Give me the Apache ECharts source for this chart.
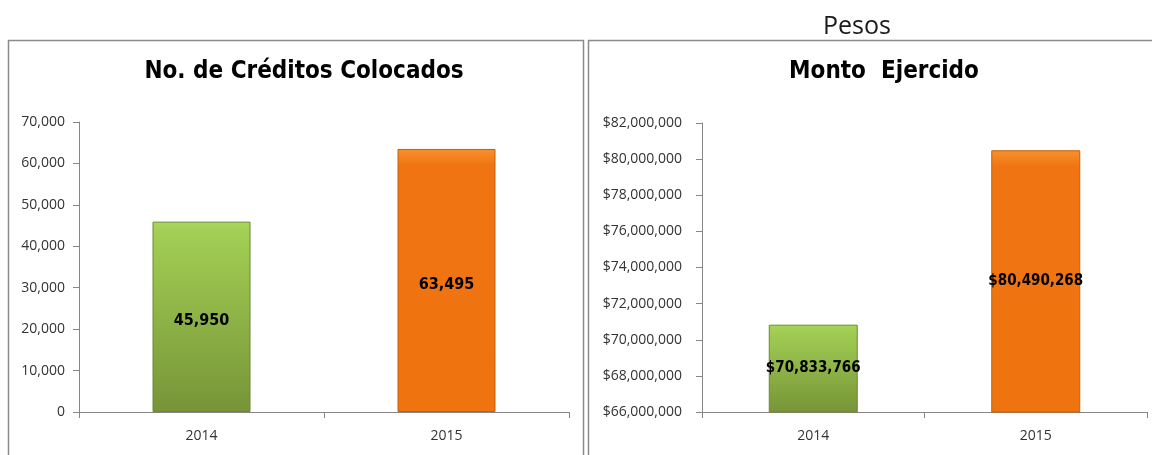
<!DOCTYPE html>
<html>
<head>
<meta charset="utf-8">
<script src="https://cdn.jsdelivr.net/npm/echarts@6/dist/echarts.min.js"></script>
<style>
  html, body { margin: 0; padding: 0; background: #fff; }
  #chart { width: 1152px; height: 455px; }
</style>
</head>
<body>
<div id="chart"></div>
<script>
  // datos de las dos gráficas
  const years = ['2014', '2015'];
  const creditos = [45950, 63495];
  const montos = [70833766, 80490268];
  const creditosTicks = { min: 0, max: 70000, step: 10000 };
  const montosTicks = { min: 66000000, max: 82000000, step: 2000000 };

  const narrow = "'DejaVu Sans Condensed', 'Liberation Sans Narrow', sans-serif";
  const regular = "'Open Sans', 'Noto Sans', sans-serif";

  const fmt = v => Number(v).toLocaleString('en-US');
  const fmtPeso = v => '$' + Number(v).toLocaleString('en-US');

  const green = new echarts.graphic.LinearGradient(0, 0, 0, 1, [
    { offset: 0, color: '#aad65c' },
    { offset: 0.05, color: '#a2cf54' },
    { offset: 1, color: '#779438' }
  ]);
  const orange = new echarts.graphic.LinearGradient(0, 0, 0, 1, [
    { offset: 0, color: '#f8912e' },
    { offset: 0.06, color: '#f07512' },
    { offset: 1, color: '#ef7410' }
  ]);

  function barData(values) {
    return values.map((v, i) => ({
      value: v,
      itemStyle: i === 0
        ? { color: green, borderColor: '#6a8a2e', borderWidth: 1 }
        : { color: orange, borderColor: '#c0600c', borderWidth: 1 }
    }));
  }

  const axisLine = { lineStyle: { color: '#868686', width: 1 } };

  const chart = echarts.init(document.getElementById('chart'));
  chart.setOption({
    animation: false,
    title: [
      {
        text: 'No. de Créditos Colocados',
        left: 299, top: 55, textAlign: 'center',
        textStyle: { fontFamily: narrow, fontWeight: 'bold', fontSize: 24, color: '#000' }
      },
      {
        text: 'Monto  Ejercido',
        left: 879, top: 55, textAlign: 'center',
        textStyle: { fontFamily: narrow, fontWeight: 'bold', fontSize: 24, color: '#000' }
      },
      {
        text: 'Pesos',
        left: 852, top: 9, textAlign: 'center',
        textStyle: { fontFamily: regular, fontWeight: 'normal', fontSize: 25, color: '#1a1a1a' }
      }
    ],
    graphic: [
      { type: 'rect', shape: { x: 8.5, y: 40.5, width: 575, height: 430 },
        style: { fill: 'none', stroke: '#8a8a8a', lineWidth: 1.5 } },
      { type: 'rect', shape: { x: 588.5, y: 40.5, width: 580, height: 430 },
        style: { fill: 'none', stroke: '#8a8a8a', lineWidth: 1.5 } }
    ],
    grid: [
      { left: 79, top: 122, width: 490, height: 290 },
      { left: 702, top: 123, width: 445, height: 289 }
    ],
    xAxis: [0, 1].map(i => ({
      type: 'category',
      gridIndex: i,
      data: years,
      axisLine: axisLine,
      axisTick: { show: true, length: 6, lineStyle: { color: '#868686' } },
      axisLabel: { fontFamily: regular, fontSize: 14, color: '#333', margin: 17 }
    })),
    yAxis: [
      {
        type: 'value', gridIndex: 0,
        min: creditosTicks.min, max: creditosTicks.max, interval: creditosTicks.step,
        axisLine: { show: true, lineStyle: axisLine.lineStyle },
        axisTick: { show: true, length: 6, lineStyle: { color: '#868686' } },
        splitLine: { show: false },
        axisLabel: { fontFamily: regular, fontSize: 14, color: '#333', margin: 14, formatter: fmt }
      },
      {
        type: 'value', gridIndex: 1,
        min: montosTicks.min, max: montosTicks.max, interval: montosTicks.step,
        axisLine: { show: true, lineStyle: axisLine.lineStyle },
        axisTick: { show: true, length: 6, lineStyle: { color: '#868686' } },
        splitLine: { show: false },
        axisLabel: { fontFamily: regular, fontSize: 14, color: '#333', margin: 20, formatter: fmtPeso }
      }
    ],
    series: [
      {
        type: 'bar', xAxisIndex: 0, yAxisIndex: 0,
        barWidth: '40%',
        data: barData(creditos),
        label: {
          show: true, position: 'inside', offset: [0, 4],
          fontFamily: narrow, fontWeight: 'bold', fontSize: 16, color: '#000',
          formatter: p => fmt(p.value)
        }
      },
      {
        type: 'bar', xAxisIndex: 1, yAxisIndex: 1,
        barWidth: '40%',
        data: barData(montos),
        label: {
          show: true, position: 'inside',
          fontFamily: narrow, fontWeight: 'bold', fontSize: 15, color: '#000',
          formatter: p => fmtPeso(p.value)
        }
      }
    ]
  });
</script>
</body>
</html>
